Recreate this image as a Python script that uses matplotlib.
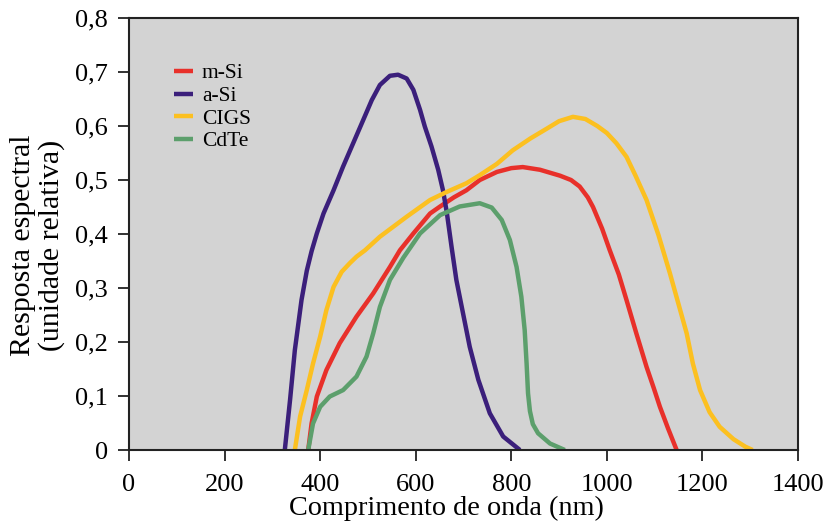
import matplotlib
matplotlib.use("Agg")
import matplotlib.pyplot as plt
from matplotlib.ticker import FuncFormatter

# Curves (wavelength in nm, relative response)
msi_x = [375, 382, 393, 413, 441, 476, 511, 546, 567, 595, 630, 651, 680, 706, 734, 770, 800, 824, 860, 902, 925, 943, 960, 971, 990, 1006, 1025, 1041, 1062, 1083, 1098, 1111, 1128, 1146]
msi_y = [0.0, 0.049, 0.099, 0.148, 0.198, 0.247, 0.29, 0.339, 0.37, 0.401, 0.438, 0.451, 0.468, 0.481, 0.5, 0.515, 0.522, 0.524, 0.519, 0.508, 0.5, 0.488, 0.468, 0.45, 0.41, 0.37, 0.325, 0.278, 0.215, 0.154, 0.115, 0.08, 0.04, 0.0]

asi_x = [326, 337, 347, 361, 372, 382, 393, 407, 428, 448, 469, 490, 508, 525, 546, 563, 581, 595, 609, 619, 633, 647, 657, 665, 675, 685, 699, 713, 731, 755, 783, 818]
asi_y = [0.0, 0.093, 0.185, 0.278, 0.332, 0.368, 0.401, 0.438, 0.481, 0.525, 0.568, 0.611, 0.648, 0.676, 0.693, 0.695, 0.688, 0.667, 0.63, 0.599, 0.562, 0.519, 0.481, 0.44, 0.376, 0.315, 0.253, 0.191, 0.13, 0.068, 0.025, 0.0]

cigs_x = [347, 358, 372, 385, 400, 413, 428, 445, 462, 476, 494, 525, 581, 630, 665, 706, 734, 770, 803, 840, 874, 900, 929, 955, 980, 1000, 1020, 1041, 1060, 1083, 1108, 1132, 1150, 1167, 1180, 1195, 1215, 1236, 1265, 1290, 1305]
cigs_y = [0.0, 0.062, 0.111, 0.16, 0.21, 0.259, 0.302, 0.33, 0.346, 0.358, 0.37, 0.395, 0.432, 0.463, 0.478, 0.494, 0.509, 0.53, 0.555, 0.577, 0.595, 0.609, 0.617, 0.613, 0.6, 0.587, 0.568, 0.543, 0.508, 0.463, 0.398, 0.327, 0.27, 0.216, 0.16, 0.111, 0.07, 0.043, 0.02, 0.006, 0.0]

cdte_x = [375, 385, 400, 420, 448, 476, 497, 511, 525, 546, 574, 609, 651, 692, 734, 759, 780, 797, 811, 821, 828, 832, 835, 839, 845, 856, 881, 912]
cdte_y = [0.0, 0.049, 0.08, 0.099, 0.111, 0.136, 0.173, 0.216, 0.265, 0.315, 0.356, 0.401, 0.435, 0.451, 0.457, 0.449, 0.426, 0.389, 0.339, 0.284, 0.222, 0.16, 0.105, 0.072, 0.048, 0.031, 0.012, 0.0]

series = [
    ("m-Si", msi_x, msi_y, "#e8302a"),
    ("a-Si", asi_x, asi_y, "#3b1f7b"),
    ("CIGS", cigs_x, cigs_y, "#fcc020"),
    ("CdTe", cdte_x, cdte_y, "#5c9f6c"),
]

x_ticks = [0, 200, 400, 600, 800, 1000, 1200, 1400]
y_ticks = [0, 0.1, 0.2, 0.3, 0.4, 0.5, 0.6, 0.7, 0.8]

plt.rcParams["font.family"] = ["Liberation Serif", "DejaVu Serif"]

fig = plt.figure(figsize=(8.33, 5.27), dpi=100)
ax = fig.add_axes([0.1549, 0.1461, 0.8031, 0.8197])
ax.set_facecolor("#d3d3d3")

for name, xs, ys, color in series:
    ax.plot(xs, ys, color=color, lw=3.2, label=name,
            solid_joinstyle="round", solid_capstyle="butt")

ax.set_xlim(0, 1400)
ax.set_ylim(0, 0.8)
ax.set_xticks(x_ticks)
ax.set_yticks(y_ticks)


def comma_fmt(v, _pos):
    if abs(v) < 1e-9:
        return "0"
    return f"{v:.1f}".replace(".", ",")


ax.yaxis.set_major_formatter(FuncFormatter(comma_fmt))
ax.tick_params(axis="both", direction="out", length=8, width=1.3,
               labelsize=19, color="#222222")
ax.tick_params(axis="y", pad=7)
ax.tick_params(axis="x", pad=9)
for s in ax.spines.values():
    s.set_linewidth(1.5)
    s.set_color("#222222")

ax.set_xlabel("Comprimento de onda (nm)", fontsize=20.3)
ax.xaxis.set_label_coords(0.474, -0.105)
ax.set_ylabel("Resposta espectral\n(unidade relativa)", fontsize=21.5,
              linespacing=1.12)
ax.yaxis.set_label_coords(-0.0957, 0.4745)

ax.legend(loc="upper left", bbox_to_anchor=(0.067, 0.895), frameon=False,
          fontsize=15.5, handlelength=0.88, handletextpad=0.42,
          labelspacing=0.12, borderaxespad=0, borderpad=0)

fig.savefig("out.png", dpi=100)
